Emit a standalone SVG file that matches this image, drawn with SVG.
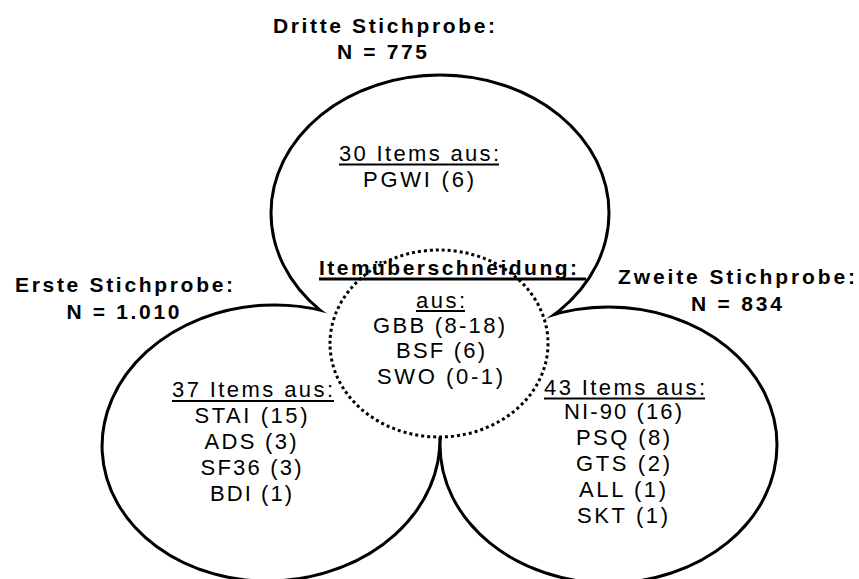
<svg xmlns="http://www.w3.org/2000/svg" width="859" height="579" viewBox="0 0 859 579">
<style>
.bg{fill:#fff}
.ol{fill:none;stroke:#000;stroke-width:6}
.fillw{fill:#fff;stroke:none}
.dot{fill:none;stroke:#000;stroke-width:3;stroke-dasharray:3 3}
.ul{stroke:#000;stroke-width:2}
.ulb{stroke:#000;stroke-width:3}
text{font-family:"Liberation Sans",Arial,Helvetica,sans-serif;fill:#000;text-anchor:middle}
.t{font-size:21px;font-weight:bold}
.b{font-size:22px}
</style>
<rect class="bg" x="0" y="0" width="859" height="579"/>
<g id="connectors"></g>
<g id="outlines">
<ellipse class="ol" cx="440" cy="213" rx="167.5" ry="136.5"/>
<ellipse class="ol" cx="271" cy="443" rx="167.5" ry="136.5" transform="rotate(-3 271 443)"/>
<ellipse class="ol" cx="608.5" cy="445" rx="167" ry="136.5"/>
</g>
<g id="node-dritte">
<ellipse class="fillw" cx="440" cy="213" rx="167.5" ry="136.5"/>
<text class="t" x="384" y="33" textLength="222" lengthAdjust="spacing">Dritte Stichprobe:</text>
<text class="t" x="382" y="59" textLength="90" lengthAdjust="spacing">N = 775</text>
<text class="b" x="419" y="161" textLength="160" lengthAdjust="spacing">30 Items aus:</text>
<line class="ul" x1="339" y1="164.5" x2="499" y2="164.5"/>
<text class="b" x="418.5" y="187" textLength="111" lengthAdjust="spacing">PGWI (6)</text>
</g>
<g id="node-erste">
<ellipse class="fillw" cx="271" cy="443" rx="167.5" ry="136.5" transform="rotate(-3 271 443)"/>
<text class="t" x="124" y="292" textLength="218" lengthAdjust="spacing">Erste Stichprobe:</text>
<text class="t" x="123" y="319" textLength="113" lengthAdjust="spacing">N = 1.010</text>
<text class="b" x="252.5" y="397" textLength="161" lengthAdjust="spacing">37 Items aus:</text>
<line class="ul" x1="172" y1="401" x2="334" y2="401"/>
<text class="b" x="251" y="423" textLength="113" lengthAdjust="spacing">STAI (15)</text>
<text class="b" x="250.5" y="449" textLength="92" lengthAdjust="spacing">ADS (3)</text>
<text class="b" x="251" y="475" textLength="101" lengthAdjust="spacing">SF36 (3)</text>
<text class="b" x="251" y="501" textLength="82" lengthAdjust="spacing">BDI (1)</text>
</g>
<g id="node-zweite">
<ellipse class="fillw" cx="608.5" cy="445" rx="167" ry="136.5"/>
<text class="t" x="736.5" y="284" textLength="237" lengthAdjust="spacing">Zweite Stichprobe:</text>
<text class="t" x="736.5" y="311" textLength="91" lengthAdjust="spacing">N = 834</text>
<text class="b" x="624.5" y="395" textLength="161" lengthAdjust="spacing">43 Items aus:</text>
<line class="ul" x1="544" y1="398.5" x2="705" y2="398.5"/>
<text class="b" x="623" y="419" textLength="118" lengthAdjust="spacing">NI-90 (16)</text>
<text class="b" x="623" y="445" textLength="94" lengthAdjust="spacing">PSQ (8)</text>
<text class="b" x="623" y="471" textLength="94" lengthAdjust="spacing">GTS (2)</text>
<text class="b" x="622.5" y="497" textLength="87" lengthAdjust="spacing">ALL (1)</text>
<text class="b" x="622.5" y="523" textLength="91" lengthAdjust="spacing">SKT (1)</text>
</g>
<g id="node-ueberschneidung">
<ellipse class="fillw" cx="439" cy="343.5" rx="109" ry="93.5"/>
<text class="t" x="448" y="275" textLength="258" lengthAdjust="spacing">Itemüberschneidung:</text>
<line class="ulb" x1="319" y1="279" x2="586" y2="279"/>
<text class="b" x="440.5" y="308" textLength="49" lengthAdjust="spacing">aus:</text>
<line class="ul" x1="416" y1="311" x2="465" y2="311"/>
<text class="b" x="439" y="333" textLength="132" lengthAdjust="spacing">GBB (8-18)</text>
<text class="b" x="440.5" y="358" textLength="89" lengthAdjust="spacing">BSF (6)</text>
<text class="b" x="440" y="384" textLength="126" lengthAdjust="spacing">SWO (0-1)</text>
<ellipse class="dot" cx="439" cy="343.5" rx="109" ry="93.5"/>
</g>
</svg>
